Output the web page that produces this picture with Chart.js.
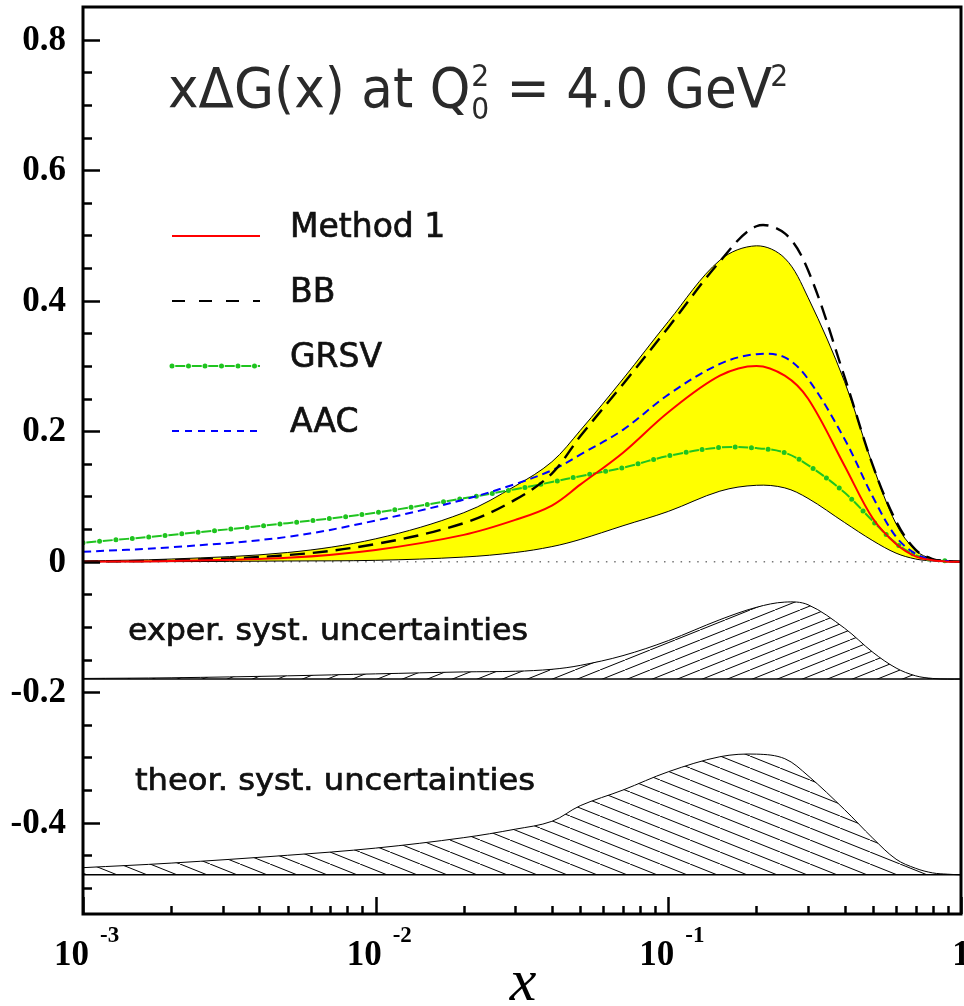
<!DOCTYPE html>
<html>
<head>
<meta charset="utf-8">
<script src="https://cdn.jsdelivr.net/npm/chart.js@4.4.0/dist/chart.umd.min.js"></script>
<style>
  html, body { margin: 0; padding: 0; background: #fff; }
  #wrap { width: 964px; height: 1006px; }
</style>
</head>
<body>
<div id="wrap"><canvas id="chart" width="964" height="1006"></canvas></div>
<script>
// x grid (log scale) and curves
const xs = [0.001, 0.002, 0.005, 0.01, 0.02, 0.03, 0.04, 0.05, 0.07, 0.1, 0.15, 0.2, 0.25, 0.3, 0.4, 0.5, 0.6, 0.7, 0.8, 0.9, 1.0];

const bandUpper = [0.001, 0.004, 0.014, 0.035, 0.075, 0.116, 0.153, 0.201, 0.280, 0.368, 0.462, 0.484, 0.465, 0.405, 0.276, 0.147, 0.058, 0.017, 0.004, 0.001, 0];
const bandLower = [0, 0, 0.001, 0.002, 0.007, 0.014, 0.023, 0.034, 0.055, 0.077, 0.108, 0.117, 0.113, 0.097, 0.060, 0.032, 0.013, 0.004, 0.001, 0, 0];
const method1 = [0, 0.001, 0.006, 0.018, 0.041, 0.064, 0.086, 0.118, 0.167, 0.229, 0.285, 0.300, 0.285, 0.250, 0.147, 0.066, 0.027, 0.008, 0.002, 0, 0];
const bb = [0, 0.002, 0.010, 0.027, 0.059, 0.095, 0.135, 0.192, 0.272, 0.359, 0.460, 0.514, 0.503, 0.447, 0.283, 0.147, 0.062, 0.018, 0.004, 0.001, 0];
const grsv = [0.029, 0.041, 0.059, 0.075, 0.097, 0.111, 0.122, 0.131, 0.144, 0.162, 0.175, 0.174, 0.167, 0.148, 0.106, 0.062, 0.028, 0.010, 0.003, 0.001, 0];
const aac = [0.015, 0.022, 0.038, 0.063, 0.095, 0.119, 0.140, 0.164, 0.202, 0.256, 0.303, 0.318, 0.313, 0.280, 0.188, 0.099, 0.038, 0.012, 0.003, 0.001, 0];

// systematic uncertainty bands (shifted down in the plot)
const expSyst = [-0.179, -0.178, -0.175, -0.172, -0.169, -0.168, -0.165, -0.159, -0.144, -0.121, -0.089, -0.070, -0.062, -0.066, -0.102, -0.139, -0.163, -0.175, -0.179, -0.180, -0.180];
const theorSyst = [-0.469, -0.462, -0.450, -0.439, -0.423, -0.410, -0.398, -0.374, -0.350, -0.322, -0.299, -0.295, -0.302, -0.328, -0.380, -0.424, -0.456, -0.470, -0.477, -0.479, -0.480];
const baseX = [0.001, 1];
const expBase = [-0.18, -0.18];
const theorBase = [-0.48, -0.48];

// tick labels
const yTickValues = [0.8, 0.6, 0.4, 0.2, 0, -0.2, -0.4];
const yTickLabels = ['0.8', '0.6', '0.4', '0.2', '0', '-0.2', '-0.4'];
const xTickValues = [0.001, 0.01, 0.1, 1];
const xTickBase = ['10', '10', '10', '1'];
const xTickExp = ['-3', '-2', '-1', ''];

const legendLabels = ['Method 1', 'BB', 'GRSV', 'AAC'];

const SANS = '"DejaVu Sans", sans-serif';
const SERIF = '"Liberation Serif", "Times New Roman", serif';
const GREEN = '#1fc41f';

function pts(xv, yv) {
    return xv.map((x, i) => ({ x: x, y: yv[i] }));
}

/* hatch pattern: lines with slope h/w, "/" or "\" */
function hatch(w, h, up) {
    let c = document.createElement('canvas');
    c.width = w; c.height = h;
    let g = c.getContext('2d');
    g.strokeStyle = '#000';
    g.lineWidth = 1;
    for (let k = -1; k <= 1; k++) {
        g.beginPath();
        if (up) { g.moveTo(k * w, h); g.lineTo(k * w + w, 0); }
        else { g.moveTo(k * w, 0); g.lineTo(k * w + w, h); }
        g.stroke();
    }
    return g.createPattern(c, 'repeat');
}

/* text squeezed to a given width, a bit heavier than plain fill */
function fitText(ctx, txt, x, y, font, width) {
    ctx.font = font;
    let w = ctx.measureText(txt).width;
    ctx.save();
    ctx.translate(x, y);
    ctx.scale(width / w, 1);
    ctx.fillText(txt, 0, 0);
    ctx.strokeText(txt, 0, 0);
    ctx.restore();
}

/* dotted zero line under the curves */
const zeroLine = {
    id: 'zeroLine',
    beforeDatasetsDraw(chart) {
        let ctx = chart.ctx, a = chart.chartArea;
        let y = chart.scales.y.getPixelForValue(0);
        ctx.save();
        ctx.strokeStyle = '#777';
        ctx.lineWidth = 1.5;
        ctx.setLineDash([1.5, 6.8]);
        ctx.beginPath();
        ctx.moveTo(a.left, y);
        ctx.lineTo(a.right, y);
        ctx.stroke();
        ctx.restore();
    }
};

/* frame, inward ticks, labels, legend, texts */
const decor = {
    id: 'decor',
    afterDraw(chart) {
        let ctx = chart.ctx, a = chart.chartArea;
        let sx = chart.scales.x, sy = chart.scales.y;
        ctx.save();

        // y ticks
        ctx.strokeStyle = '#000';
        ctx.lineWidth = 2.5;
        for (let k = -10; k <= 16; k++) {
            let py = Math.round(sy.getPixelForValue(k * 0.05)) + 0.5;
            let len = (k % 4 === 0) ? 17 : 9;
            ctx.beginPath();
            ctx.moveTo(a.left, py);
            ctx.lineTo(a.left + len, py);
            ctx.stroke();
        }
        // x ticks
        for (let d = -3; d <= 0; d++) {
            for (let m = 1; m <= 9; m++) {
                if (d === 0 && m > 1) break;
                let px = Math.round(sx.getPixelForValue(m * Math.pow(10, d))) + 0.5;
                let len = (m === 1) ? 17 : 8;
                ctx.beginPath();
                ctx.moveTo(px, a.bottom);
                ctx.lineTo(px, a.bottom - len);
                ctx.stroke();
            }
        }
        // frame
        ctx.lineWidth = 3;
        ctx.strokeRect(a.left, a.top, a.right - a.left, a.bottom - a.top);

        // y labels
        ctx.fillStyle = '#000';
        ctx.font = 'bold 35px ' + SERIF;
        ctx.textAlign = 'right';
        ctx.textBaseline = 'middle';
        yTickValues.forEach((v, i) => {
            ctx.fillText(yTickLabels[i], 66, sy.getPixelForValue(v) + 1);
        });

        // x labels with exponents
        ctx.textBaseline = 'alphabetic';
        xTickValues.forEach((v, i) => {
            let px = sx.getPixelForValue(v);
            if (xTickExp[i]) {
                ctx.font = 'bold 35px ' + SERIF;
                ctx.textAlign = 'right';
                ctx.fillText(xTickBase[i], px + 6, 965);
                ctx.font = 'bold 23px ' + SERIF;
                ctx.textAlign = 'left';
                ctx.fillText(xTickExp[i], px + 17, 942);
            } else {
                ctx.font = 'bold 35px ' + SERIF;
                ctx.textAlign = 'center';
                ctx.fillText(xTickBase[i], px, 965);
            }
        });

        // axis title
        ctx.font = 'italic 60px ' + SERIF;
        ctx.textAlign = 'center';
        ctx.fillText('x', 523, 1000);

        // plot title
        ctx.textAlign = 'left';
        ctx.fillStyle = '#2a2a2a';
        let big = '55px ' + SANS, sm = '30px ' + SANS;
        ctx.font = big;
        let w1 = ctx.measureText('x\u0394G(x) at Q').width;
        let w3 = ctx.measureText(' = 4.0 GeV').width;
        ctx.font = sm;
        let w2 = ctx.measureText('0').width + 2;
        let w4 = ctx.measureText('2').width;
        let scale = (790 - 168) / (w1 + w2 + w3 + w4);
        ctx.save();
        ctx.translate(168, 107);
        ctx.scale(scale, 1);
        ctx.font = big;
        ctx.fillText('x\u0394G(x) at Q', 0, 0);
        ctx.font = sm;
        ctx.fillText('2', w1 + 1, -21);
        ctx.fillText('0', w1 + 1, 12);
        ctx.font = big;
        ctx.fillText(' = 4.0 GeV', w1 + w2, 0);
        ctx.font = sm;
        ctx.fillText('2', w1 + w2 + w3 - 2, -21);
        ctx.restore();

        // legend
        let ly = [236, 301, 366, 431];
        ctx.fillStyle = '#111';
        ctx.strokeStyle = '#111';
        ctx.lineWidth = 0.7;
        ctx.font = '33px ' + SANS;
        legendLabels.forEach((t, i) => {
            ctx.fillText(t, 290, ly[i] + 1);
            ctx.strokeText(t, 290, ly[i] + 1);
        });
        ctx.lineWidth = 2;
        let seg = (y, color, dash) => {
            ctx.strokeStyle = color;
            ctx.setLineDash(dash);
            ctx.beginPath();
            ctx.moveTo(172, y);
            ctx.lineTo(260, y);
            ctx.stroke();
        };
        seg(ly[0], '#ff0000', []);
        seg(ly[1], '#000', [13, 14]);
        ctx.lineDashOffset = -3.25;
        seg(ly[2], GREEN, [10, 6.5]);
        ctx.lineDashOffset = 0;
        ctx.lineWidth = 5;
        ctx.lineCap = 'round';
        seg(ly[2], GREEN, [0, 16.5]);
        ctx.lineCap = 'butt';
        ctx.lineWidth = 2;
        seg(ly[3], '#0000ff', [7, 6]);
        ctx.setLineDash([]);

        // band annotations
        ctx.fillStyle = '#111';
        ctx.strokeStyle = '#111';
        ctx.lineWidth = 0.7;
        fitText(ctx, 'exper. syst. uncertainties', 128, 640, '30px ' + SANS, 400);
        fitText(ctx, 'theor. syst. uncertainties', 135, 790, '30px ' + SANS, 400);

        ctx.restore();
    }
};

const ctx = document.getElementById('chart').getContext('2d');

const line = (data, color, width, extra) => Object.assign({
    data: data,
    borderColor: color,
    borderWidth: width,
    pointRadius: 0,
    fill: false,
    tension: 0.35
}, extra || {});

const chart = new Chart(ctx, {
    type: 'line',
    data: {
        datasets: [
            line(pts(xs, bandUpper), '#000', 1, { fill: '+1', backgroundColor: '#ffff00', order: 11 }),
            line(pts(xs, bandLower), '#000', 1, { order: 10 }),
            line(pts(xs, expSyst), '#000', 1, { fill: '+1', backgroundColor: hatch(25, 10, true), order: 9 }),
            line(pts(baseX, expBase), '#000', 1.5, { order: 8 }),
            line(pts(xs, theorSyst), '#000', 1, { fill: '+1', backgroundColor: hatch(30, 12, false), order: 9 }),
            line(pts(baseX, theorBase), '#000', 1.5, { order: 8 }),
            line(pts(xs, grsv), GREEN, 2, { borderDash: [10, 6.5], borderDashOffset: -3.25, order: 5 }),
            line(pts(xs, grsv), GREEN, 5, { borderDash: [0, 16.5], borderCapStyle: 'round', order: 5 }),
            line(pts(xs, aac), '#0000ff', 2, { borderDash: [8, 5], order: 4 }),
            line(pts(xs, bb), '#000', 2.4, { borderDash: [15, 8], order: 3 }),
            line(pts(xs, method1), '#ff0000', 2, { order: 2 })
        ]
    },
    options: {
        responsive: false,
        animation: false,
        devicePixelRatio: 1,
        layout: { padding: { left: 83, right: 3, top: 7, bottom: 92 } },
        plugins: {
            legend: { display: false },
            tooltip: { enabled: false },
            title: { display: false }
        },
        scales: {
            x: { type: 'logarithmic', min: 0.001, max: 1, display: false },
            y: { type: 'linear', min: -0.54, max: 0.85, display: false }
        }
    },
    plugins: [zeroLine, decor]
});
</script>
</body>
</html>
